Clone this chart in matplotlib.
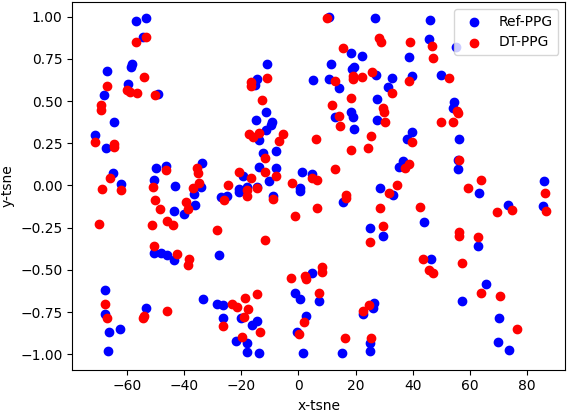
import matplotlib
matplotlib.use("Agg")
import matplotlib.pyplot as plt

ref_x = [-56.7, -53.2, -54.3, -67.1, -58.6, -58.1, -67.9, -59.5, -49.0, -64.4,
         -71.0, -67.2, -64.8, -62.0, -49.8, -46.4, -50.4, -43.1, -36.5, -43.4,
         -39.9, -50.4, -48.2, -45.9, -43.4, -67.6, -67.6, -66.2, -62.3, -66.5,
         -53.2, -10.9, -14.5, -15.2, 5.0, -11.3, -15.0, -9.4, -9.6, -11.4,
         -13.7, -7.8, -12.3, -13.7, -7.8, -10.3, -33.8, -34.1, -19.3, -20.7,
         -18.1, -14.6, 1.1, 0.5, 4.6, -36.2, -20.7, -27.1, -24.9, -9.0,
         0.6, -27.7, 4.6, -33.3, -28.4, -26.3, -26.3, -20.2, -14.6, -16.4,
         -21.9, -18.1, -17.9, -13.7, -1.1, 0.5, 2.5, -0.4, 1.7, 10.8,
         26.9, 46.0, 45.6, 18.3, 22.3, 38.6, 11.3, 19.5, 18.8, 27.2,
         10.7, 14.1, 32.8, 39.8, 31.2, 27.3, 18.5, 19.2, 12.9, 27.3,
         19.5, 39.6, 38.0, 36.6, 35.2, 28.5, 32.9, 15.7, 44.0, 25.1,
         29.7, 46.2, 7.3, 26.5, 26.2, 22.4, 15.1, 25.1, 25.1, 55.0,
         49.7, 54.4, 54.1, 56.2, 55.8, 55.8, 85.9, 63.2, 73.1, 85.6,
         62.7, 65.5, 57.1, 70.2, 69.7, 73.7]
ref_y = [0.975, 0.99, 0.88, 0.677, 0.702, 0.718, 0.534, 0.6, 0.542, 0.374,
         0.299, 0.22, 0.072, 0.011, 0.102, 0.117, 0.033, -0.003, -0.05, -0.149,
         -0.171, -0.398, -0.398, -0.41, -0.441, -0.621, -0.763, -0.868, -0.848, -0.98,
         -0.727, 0.718, 0.631, 0.595, 0.627, 0.437, 0.39, 0.374, 0.357, 0.331,
         0.27, 0.204, 0.191, 0.111, 0.102, 0.028, 0.132, -0.007, 0.058, -0.023,
         -0.011, -0.007, 0.078, -0.013, 0.068, -0.116, -0.037, -0.066, -0.062, -0.062,
         -0.031, -0.414, -0.52, -0.672, -0.702, -0.706, -0.787, -0.787, -0.803, -0.826,
         -0.921, -0.935, -0.986, -0.994, -0.639, -0.674, -0.771, -0.868, -0.994, 1.0,
         0.99, 0.98, 0.868, 0.783, 0.769, 0.763, 0.718, 0.702, 0.688, 0.656,
         0.631, 0.578, 0.635, 0.65, 0.585, 0.511, 0.437, 0.408, 0.404, 0.388,
         0.333, 0.315, 0.275, 0.147, 0.108, -0.013, -0.056, -0.096, -0.214, -0.25,
         -0.297, -0.437, -0.682, -0.698, -0.727, -0.763, -0.994, -0.931, -0.979, 0.822,
         0.655, 0.496, 0.461, 0.274, 0.151, 0.098, 0.028, -0.043, -0.116, -0.121,
         -0.357, -0.585, -0.682, -0.787, -0.925, -0.975]

dt_x = [-53.3, -56.7, -53.9, -67.1, -60.1, -58.9, -56.6, -50.3, -69.1, -69.1,
        -71.0, -64.4, -64.4, -65.9, -46.4, -51.0, -68.7, -62.0, -37.0, -50.2,
        -48.4, -39.3, -38.5, -69.7, -51.1, -45.9, -44.0, -50.4, -42.4, -38.2,
        -38.5, -67.6, -67.1, -54.5, -54.0, -45.9, -10.9, -16.7, -16.7, -12.7,
        -17.2, -15.8, -13.7, -5.3, -6.7, 6.2, -11.7, -11.6, -7.9, -35.4,
        -35.0, -34.7, -20.7, -16.5, -24.8, -2.2, 4.6, -17.9, -14.6, -18.1,
        -26.0, -8.8, -1.2, -28.6, -11.6, -2.6, 2.3, 2.5, -23.3, -21.6,
        -18.6, -14.6, -17.6, -26.3, -19.1, -13.5, -19.9, 1.9, 0.1, 10.1,
        28.1, 28.7, 39.0, 46.6, 47.1, 15.7, 25.8, 12.9, 19.2, 19.2,
        22.3, 38.6, 32.8, 18.5, 11.8, 29.7, 29.9, 14.3, 14.6, 30.2,
        25.5, 18.3, 24.4, 39.6, 38.6, 37.2, 6.6, 12.8, 34.3, 31.7,
        16.5, 16.5, 6.4, 28.5, 42.5, 29.7, 25.1, 43.6, 45.5, 46.9,
        8.3, 8.3, 7.3, 24.8, 22.4, 16.4, 25.5, 52.7, 55.5, 55.8,
        49.7, 53.9, 56.2, 63.7, 59.4, 86.2, 74.5, 69.3, 86.4, 56.2,
        56.2, 62.7, 57.1, 63.8, 70.6, 76.3]
dt_y = [0.88, 0.848, 0.641, 0.588, 0.566, 0.552, 0.546, 0.534, 0.477, 0.447,
        0.258, 0.244, 0.23, 0.046, 0.092, -0.007, -0.021, -0.024, -0.012, -0.086,
        -0.141, -0.096, -0.141, -0.226, -0.236, -0.212, -0.236, -0.358, -0.406, -0.435,
        -0.469, -0.7, -0.783, -0.783, -0.771, -0.745, 0.635, 0.611, 0.588, 0.505,
        0.305, 0.289, 0.313, 0.305, 0.262, 0.274, 0.161, 0.082, 0.055, 0.102,
        0.076, 0.017, 0.078, 0.046, 0.001, 0.017, 0.046, -0.027, -0.015, -0.062,
        -0.086, -0.082, -0.179, -0.264, -0.323, -0.546, -0.536, -0.554, -0.702, -0.718,
        -0.665, -0.645, -0.733, -0.831, -0.777, -0.866, -0.899, -0.807, -0.878, 0.99,
        0.872, 0.852, 0.848, 0.825, 0.754, 0.813, 0.672, 0.619, 0.65, 0.631,
        0.641, 0.621, 0.55, 0.517, 0.477, 0.457, 0.437, 0.414, 0.352, 0.374,
        0.295, 0.209, 0.22, 0.256, 0.126, 0.102, 0.033, 0.098, 0.0, -0.046,
        -0.056, -0.076, -0.132, -0.135, -0.126, -0.238, -0.333, -0.437, -0.5, -0.517,
        -0.481, -0.511, -0.635, -0.708, -0.743, -0.902, -0.902, 0.635, 0.441, 0.428,
        0.378, 0.378, 0.151, 0.033, -0.012, -0.043, -0.145, -0.155, -0.149, -0.274,
        -0.299, -0.303, -0.457, -0.639, -0.653, -0.848]

fig = plt.figure(figsize=(5.74, 4.18), dpi=100)
ax = fig.add_axes([72.3 / 574, (418 - 369.5) / 418, 493 / 574, 367.5 / 418])
ax.scatter(ref_x, ref_y, c="blue", label="Ref-PPG")
ax.scatter(dt_x, dt_y, c="red", label="DT-PPG")
ax.set_xlim(-79.1, 93.3)
ax.set_ylim(-1.09, 1.087)
ax.set_xticks([-60, -40, -20, 0, 20, 40, 60, 80])
ax.set_yticks([-1.0, -0.75, -0.5, -0.25, 0.0, 0.25, 0.5, 0.75, 1.0])
ax.set_xlabel("x-tsne")
ax.set_ylabel("y-tsne")
ax.legend(loc="upper right")
fig.savefig("out.png", dpi=100)
